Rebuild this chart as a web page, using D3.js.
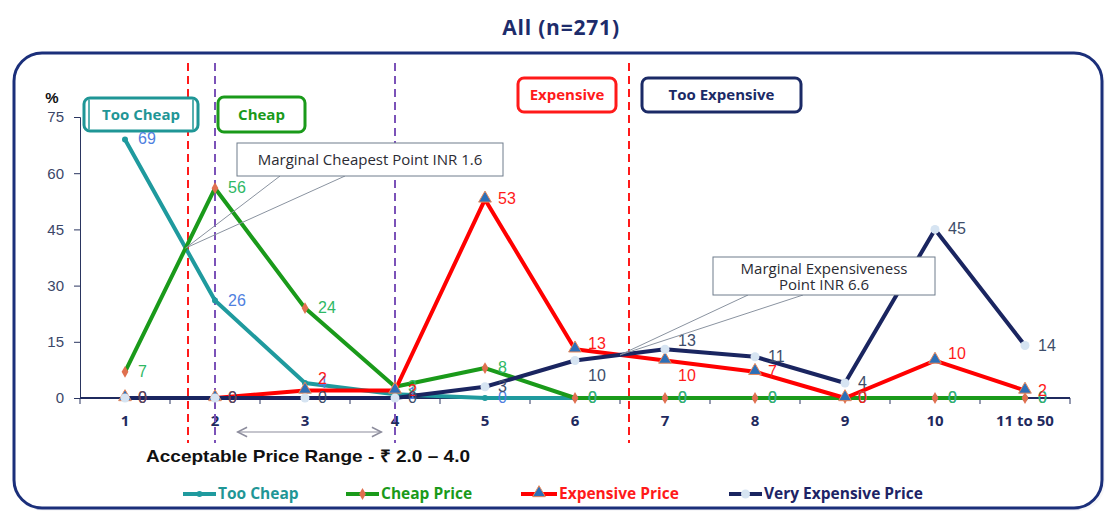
<!DOCTYPE html>
<html>
<head>
<meta charset="utf-8">
<script src="https://cdn.jsdelivr.net/npm/d3@7"></script>
<style>
  html, body { margin: 0; padding: 0; background: #ffffff; }
  svg { display: block; }
  text { font-family: "Liberation Sans", Arial, sans-serif; }
  .os { font-family: "Open Sans", "Liberation Sans", sans-serif; }
</style>
</head>
<body>
<svg id="chart" width="1105" height="511"></svg>
<script>
// Price points asked about (INR)
const categories = ["1", "2", "3", "4", "5", "6", "7", "8", "9", "10", "11 to 50"];

// Share of respondents (%) per price point
const tooCheap      = [69, 26, 4, 1, 0, 0, 0, 0, 0, 0, 0];
const cheapPrice    = [7, 56, 24, 3, 8, 0, 0, 0, 0, 0, 0];
const expensive     = [0, 0, 2, 2, 53, 13, 10, 7, 0, 10, 2];
const veryExpensive = [0, 0, 0, 0, 3, 10, 13, 11, 4, 45, 14];

const yTicks = [0, 15, 30, 45, 60, 75];

const seriesNames = ["Too Cheap", "Cheap Price", "Expensive Price", "Very Expensive Price"];

// Price thresholds (INR)
const marginalCheapest = 1.7;
const marginalExpensive = 6.6;
const acceptableRange = [2, 4];

const svg = d3.select("#chart");

// Chart frame
svg.append("rect")
  .attr("x", 15).attr("y", 55).attr("width", 1090).attr("height", 456)
  .attr("rx", 28)
  .attr("fill", "#f1f2f5").attr("opacity", 0.6);
svg.append("rect")
  .attr("x", 14).attr("y", 53).attr("width", 1088).attr("height", 455)
  .attr("rx", 28)
  .attr("fill", "#ffffff").attr("stroke", "#1b2f7a").attr("stroke-width", 3);

// Title
svg.append("text")
  .attr("class", "os")
  .attr("x", 561).attr("y", 35)
  .attr("text-anchor", "middle")
  .attr("font-size", 21).attr("font-weight", "bold")
  .attr("letter-spacing", 0.8)
  .attr("fill", "#1d2c6b")
  .text("All (n=271)");

const x = d3.scalePoint().domain(categories).range([80, 1070]).padding(0.5);
const xPrice = d3.scaleLinear().domain([1, 10]).range([x(categories[0]), x(categories[9])]);
const y = d3.scaleLinear().domain([0, 75]).range([398, 117]);

// Y axis
const yAxis = svg.append("g")
  .attr("transform", "translate(80,0)")
  .call(d3.axisLeft(y).tickValues(yTicks).tickSize(6).tickPadding(10));
yAxis.select(".domain").attr("stroke", "#2a3560").attr("stroke-width", 1);
yAxis.selectAll(".tick line").attr("stroke", "#2a3560");
yAxis.selectAll(".tick text")
  .attr("font-size", 15).attr("fill", "#3b4668")
  .attr("font-family", "'Liberation Sans', Arial, sans-serif");

svg.append("text")
  .attr("x", 52).attr("y", 103)
  .attr("text-anchor", "middle")
  .attr("font-size", 15).attr("font-weight", "bold").attr("fill", "#111")
  .text("%");

// X axis: tick marks fall between price points
const step = x.step();
const xAxisG = svg.append("g").attr("transform", `translate(0,${y(0)})`);
xAxisG.append("line")
  .attr("x1", x.range()[0]).attr("x2", x.range()[1])
  .attr("stroke", "#1f2a5e").attr("stroke-width", 2);
xAxisG.selectAll("line.tk")
  .data(d3.range(categories.length + 1))
  .join("line")
  .attr("class", "tk")
  .attr("x1", i => x.range()[0] + i * step)
  .attr("x2", i => x.range()[0] + i * step)
  .attr("y1", 0).attr("y2", 6)
  .attr("stroke", "#2a3560");
xAxisG.selectAll("text")
  .data(categories)
  .join("text")
  .attr("class", "os")
  .attr("x", d => x(d)).attr("y", 28)
  .attr("text-anchor", "middle")
  .attr("font-size", 15).attr("font-weight", "bold")
  .attr("fill", "#1f2a5e")
  .text(d => d);

// Reference lines
const refLines = [
  { v: marginalCheapest, color: "#ff1a1a", y2: 443 },
  { v: acceptableRange[0], color: "#7b52b8", y2: 443 },
  { v: acceptableRange[1], color: "#7b52b8", y2: 443 },
  { v: marginalExpensive, color: "#ff1a1a", y2: 443 }
];
svg.selectAll("line.ref")
  .data(refLines)
  .join("line")
  .attr("class", "ref")
  .attr("x1", d => xPrice(d.v)).attr("x2", d => xPrice(d.v))
  .attr("y1", 63).attr("y2", d => d.y2)
  .attr("stroke", d => d.color)
  .attr("stroke-width", 2)
  .attr("stroke-dasharray", "8,5");

// Zone boxes
function zoneBox(bx, by, bw, bh, color, label, doubled) {
  svg.append("rect")
    .attr("x", bx).attr("y", by).attr("width", bw).attr("height", bh)
    .attr("rx", 6).attr("fill", "#ffffff")
    .attr("stroke", color).attr("stroke-width", 3);
  if (doubled) {
    [bx + 5, bx + bw - 5].forEach(lx => {
      svg.append("line")
        .attr("x1", lx).attr("x2", lx).attr("y1", by + 1.5).attr("y2", by + bh - 1.5)
        .attr("stroke", color).attr("stroke-width", 1.5);
    });
  }
  svg.append("text")
    .attr("class", "os")
    .attr("x", bx + bw / 2).attr("y", by + bh / 2 + 5)
    .attr("text-anchor", "middle")
    .attr("font-size", 15).attr("font-weight", "bold")
    .attr("fill", color)
    .text(label);
}
zoneBox(84, 98, 114, 33, "#1f9696", "Too Cheap", true);
zoneBox(218, 97, 87, 35, "#1a9a1a", "Cheap", false);
zoneBox(518, 78, 98, 34, "#ff1a1a", "Expensive", false);
zoneBox(642, 78, 159, 34, "#1b2a66", "Too Expensive", false);

// Acceptable price range arrow
const defs = svg.append("defs");
["arrStart", "arrEnd"].forEach((id, i) => {
  defs.append("marker")
    .attr("id", id)
    .attr("viewBox", "0 0 10 10")
    .attr("refX", i === 0 ? 1 : 9).attr("refY", 5)
    .attr("markerWidth", 12).attr("markerHeight", 12)
    .attr("markerUnits", "userSpaceOnUse")
    .attr("orient", "auto")
    .append("path")
    .attr("d", i === 0 ? "M9,1 L1,5 L9,9" : "M1,1 L9,5 L1,9")
    .attr("fill", "none").attr("stroke", "#8c8c9c").attr("stroke-width", 1.3);
});
svg.append("line")
  .attr("x1", xPrice(2.25)).attr("x2", xPrice(3.85))
  .attr("y1", 432).attr("y2", 432)
  .attr("stroke", "#8c8c9c").attr("stroke-width", 1.2)
  .attr("marker-start", "url(#arrStart)")
  .attr("marker-end", "url(#arrEnd)");

svg.append("text")
  .attr("x", 146).attr("y", 462)
  .attr("font-size", 17).attr("font-weight", "bold").attr("fill", "#111")
  .attr("font-family", "'Noto Sans', 'DejaVu Sans', sans-serif")
  .attr("textLength", 324).attr("lengthAdjust", "spacingAndGlyphs")
  .text(`Acceptable Price Range -  \u20B9 ${acceptableRange[0].toFixed(1)} \u2013 ${acceptableRange[1].toFixed(1)}`);

// Series definitions
const series = [
  { name: seriesNames[0], values: tooCheap, line: "#1f9a9e", label: "#4f7fe0", marker: "dot", mfill: "#1f9a9e" },
  { name: seriesNames[1], values: cheapPrice, line: "#1a9a1a", label: "#2fb865", marker: "diamond", mfill: "#e0704f" },
  { name: seriesNames[2], values: expensive, line: "#ff0000", label: "#ff1a1a", marker: "triangle", mfill: "#2c6fb8" },
  { name: seriesNames[3], values: veryExpensive, line: "#1a2560", label: "#3d4d6a", marker: "circle", mfill: "#d6e4f2" }
];

// Label nudges where labels would collide (series index -> point index -> dy)
const labelNudge = {
  2: { 2: -12, 5: -5, 6: 15, 9: -7 },
  3: { 5: 15, 6: -8 }
};

const line = d3.line().x((d, i) => x(categories[i])).y(d => y(d));

function drawMarker(g, kind, fill) {
  if (kind === "dot") {
    g.append("circle").attr("r", 3).attr("fill", fill);
  } else if (kind === "diamond") {
    g.append("path").attr("d", d3.symbol(d3.symbolDiamond, 40)()).attr("fill", fill);
  } else if (kind === "triangle") {
    g.append("path").attr("d", d3.symbol(d3.symbolTriangle, 70)())
      .attr("transform", "translate(0,-1)")
      .attr("fill", fill).attr("stroke", "#e8885a").attr("stroke-width", 1);
  } else {
    g.append("circle").attr("r", 4.5).attr("fill", fill);
  }
}

series.forEach((s, si) => {
  svg.append("path")
    .datum(s.values)
    .attr("d", line)
    .attr("fill", "none")
    .attr("stroke", s.line)
    .attr("stroke-width", 4)
    .attr("stroke-linejoin", "round");
});

series.forEach((s, si) => {
  s.values.forEach((v, i) => {
    const g = svg.append("g").attr("transform", `translate(${x(categories[i])},${y(v)})`);
    drawMarker(g, s.marker, s.mfill);
  });
});

series.forEach((s, si) => {
  svg.selectAll(null)
    .data(s.values)
    .join("text")
    .attr("x", (d, i) => x(categories[i]) + 13)
    .attr("y", (d, i) => y(d) + 5 + ((labelNudge[si] || {})[i] || 0))
    .attr("font-size", 16)
    .attr("fill", s.label)
    .text(d => d);
});

// Callouts pointing at the crossing points
function crossing(a, b, i) {
  const t = (b[i] - a[i]) / ((a[i + 1] - a[i]) - (b[i + 1] - b[i]));
  return [x(categories[i]) + t * step, y(a[i] + t * (a[i + 1] - a[i]))];
}
function callout(pt, bx, by, bw, bh, lines, attach) {
  attach.forEach(ax => {
    svg.append("line")
      .attr("x1", pt[0]).attr("y1", pt[1])
      .attr("x2", ax).attr("y2", by + bh)
      .attr("stroke", "#8a93a0").attr("stroke-width", 1);
  });
  svg.append("rect")
    .attr("x", bx).attr("y", by).attr("width", bw).attr("height", bh)
    .attr("fill", "#ffffff").attr("stroke", "#6f7c8c").attr("stroke-width", 1);
  lines.forEach((t, k) => {
    svg.append("text")
      .attr("class", "os")
      .attr("x", bx + bw / 2).attr("y", by + (lines.length === 1 ? bh / 2 + 5 : 17 + k * 16))
      .attr("text-anchor", "middle")
      .attr("font-size", 15).attr("fill", "#2b2b33")
      .text(t);
  });
}
callout(crossing(tooCheap, cheapPrice, 0), 237, 143, 266, 33,
  ["Marginal Cheapest Point INR 1.6"], [280, 345]);
callout(crossing(expensive, veryExpensive, 5), 713, 257, 222, 38,
  ["Marginal Expensiveness", "Point  INR 6.6"], [748, 803]);

// Legend
const legendX = [183, 346, 521, 729];
const legendColors = ["#1f9696", "#1a9a1a", "#ff1a1a", "#1d2466"];
series.forEach((s, si) => {
  const lx = legendX[si];
  const lw = si === 2 ? 36 : 33;
  svg.append("line")
    .attr("x1", lx).attr("x2", lx + lw).attr("y1", 494).attr("y2", 494)
    .attr("stroke", s.line).attr("stroke-width", 4);
  const g = svg.append("g").attr("transform", `translate(${lx + lw / 2},494)`);
  drawMarker(g, s.marker, s.mfill);
  svg.append("text")
    .attr("class", "os")
    .attr("x", lx + lw + 2).attr("y", 499)
    .attr("font-size", 15.5).attr("font-weight", "bold")
    .attr("fill", legendColors[si])
    .text(s.name);
});
</script>
</body>
</html>
